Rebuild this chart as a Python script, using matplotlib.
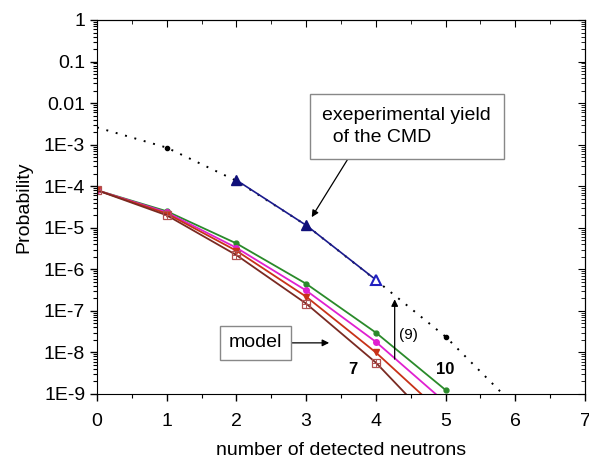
import numpy as np
import matplotlib
matplotlib.use("Agg")
import matplotlib.pyplot as plt
from matplotlib.ticker import FixedLocator, LogLocator, NullFormatter, MultipleLocator

plt.rcParams['font.family'] = ['Liberation Sans', 'DejaVu Sans']

# Data
n_cmd = [0, 1, 2, 3, 4, 5, 6]
p_cmd_fit = [2.6e-3, 8.5e-4, 1.35e-4, 1.15e-5, 5.5e-7, 2.4e-8, 5.0e-10]

n_exp = [2, 3, 4]
p_exp = [1.4e-4, 1.15e-5, 5.6e-7]

n_model = [0, 1, 2, 3, 4, 5]
p_model_10 = [8.0e-5, 2.5e-5, 4.2e-6, 4.5e-7, 3.0e-8, 1.25e-9]
p_model_9 = [8.0e-5, 2.35e-5, 3.3e-6, 3.1e-7, 1.8e-8, 6.2e-10]
p_model_8 = [8.0e-5, 2.2e-5, 2.8e-6, 2.2e-7, 1.0e-8, 2.9e-10]
p_model_7 = [8.0e-5, 2.0e-5, 2.2e-6, 1.5e-7, 5.7e-9, 1.0e-10]

ytick_vals = [1, 0.1, 0.01, 1e-3, 1e-4, 1e-5, 1e-6, 1e-7, 1e-8, 1e-9]
ytick_labels = ["1", "0.1", "0.01", "1E-3", "1E-4", "1E-5", "1E-6", "1E-7", "1E-8", "1E-9"]
xtick_vals = [0, 1, 2, 3, 4, 5, 6, 7]

fig = plt.figure(figsize=(5.89, 4.59), dpi=100)
ax = fig.add_axes([97/589, 1 - 394/459, (585-97)/589, (394-20)/459])

ax.set_yscale('log')
ax.set_xlim(0, 7)
ax.set_ylim(1e-9, 1)

# dotted fit of CMD
ax.plot(n_cmd, p_cmd_fit, linestyle=(0, (1, 4)), color='black', lw=1.4)
ax.plot([1, 5], [p_cmd_fit[1], p_cmd_fit[5]], 'o', color='black', ms=3, ls='none')

# experimental
ax.plot(n_exp, p_exp, color='#1a1a8c', lw=1.2)
ax.plot(n_exp[:2], p_exp[:2], '^', color='#10107a', ms=7, ls='none')
ax.plot(n_exp[2:], p_exp[2:], '^', color='#2020c0', mfc='white', mew=1.5, ms=7, ls='none')

# model curves
ax.plot(n_model, p_model_10, color='#2a8a2a', lw=1.3, marker='o', ms=3.5)
ax.plot(n_model, p_model_9, color='#e020d0', lw=1.3, marker='o', ms=4)
ax.plot(n_model, p_model_8, color='#c83218', lw=1.3, marker='v', ms=4.5)
ax.plot(n_model, p_model_7, color='#7a2a22', lw=1.3, marker='s', ms=6,
        mfc='none', mec='#b05050', mew=0.9)
ax.plot(n_model, p_model_7, ls='none', marker='+', ms=6, mec='#b05050', mew=0.7)

# ticks
ax.yaxis.set_major_locator(FixedLocator(ytick_vals))
ax.set_yticklabels(ytick_labels)
ax.yaxis.set_minor_locator(LogLocator(base=10, subs=np.arange(2, 10)))
ax.yaxis.set_minor_formatter(NullFormatter())
ax.set_xticks(xtick_vals)
ax.xaxis.set_minor_locator(MultipleLocator(0.5))

ax.tick_params(axis='both', which='major', labelsize=14, length=5, width=1)
ax.tick_params(axis='both', which='minor', length=3, width=0.8)
ax.tick_params(axis='x', which='both', direction='out', top=False)
ax.tick_params(axis='x', which='major', pad=9)
ax.tick_params(axis='y', which='both', direction='out', right=False)

# secondary ticks (inward) on top and right
axt = ax.secondary_xaxis('top')
axt.set_xticks(xtick_vals)
axt.xaxis.set_minor_locator(MultipleLocator(0.5))
axt.tick_params(which='major', direction='in', length=5, labeltop=False)
axt.tick_params(which='minor', direction='in', length=3)
axt.set_xticklabels([])
axr = ax.secondary_yaxis('right')
axr.yaxis.set_major_locator(FixedLocator(ytick_vals))
axr.yaxis.set_minor_locator(LogLocator(base=10, subs=np.arange(2, 10)))
axr.yaxis.set_minor_formatter(NullFormatter())
axr.tick_params(which='major', direction='in', length=5)
axr.tick_params(which='minor', direction='in', length=3)
axr.set_yticklabels([])

ax.set_xlabel("number of detected neutrons", fontsize=14, labelpad=8)
ax.set_ylabel("Probability", fontsize=14, labelpad=8)

# annotations
ax.annotate("exeperimental yield\n  of the CMD", xy=(3.08, 1.8e-5), xytext=(3.23, 2.75e-3),
            fontsize=14, ha='left', va='center', linespacing=1.4,
            bbox=dict(boxstyle='square,pad=0.65', fc='white', ec='#888888', lw=1),
            arrowprops=dict(arrowstyle='-|>', color='black', lw=0.9, mutation_scale=10,
                            shrinkA=0, shrinkB=0, relpos=(0.2, 0.0)))

ax.annotate("model", xy=(3.33, 1.7e-8), xytext=(1.89, 1.7e-8),
            fontsize=14, ha='left', va='center',
            bbox=dict(boxstyle='square,pad=0.45', fc='white', ec='#888888', lw=1),
            arrowprops=dict(arrowstyle='-|>', color='black', lw=0.9, mutation_scale=10,
                            shrinkA=0, shrinkB=0, relpos=(1.0, 0.5)))

ax.annotate("", xy=(4.27, 1.9e-7), xytext=(4.27, 6.9e-9),
            arrowprops=dict(arrowstyle='-|>', color='black', lw=0.9, mutation_scale=10,
                            shrinkA=0, shrinkB=0))
ax.text(4.33, 2.6e-8, "(9)", fontsize=11, ha='left', va='center')
ax.text(3.67, 3.8e-9, "7", fontsize=12, fontweight='bold', ha='center', va='center')
ax.text(5.0, 3.8e-9, "10", fontsize=12, fontweight='bold', ha='center', va='center')

fig.savefig("out.png", dpi=100)
